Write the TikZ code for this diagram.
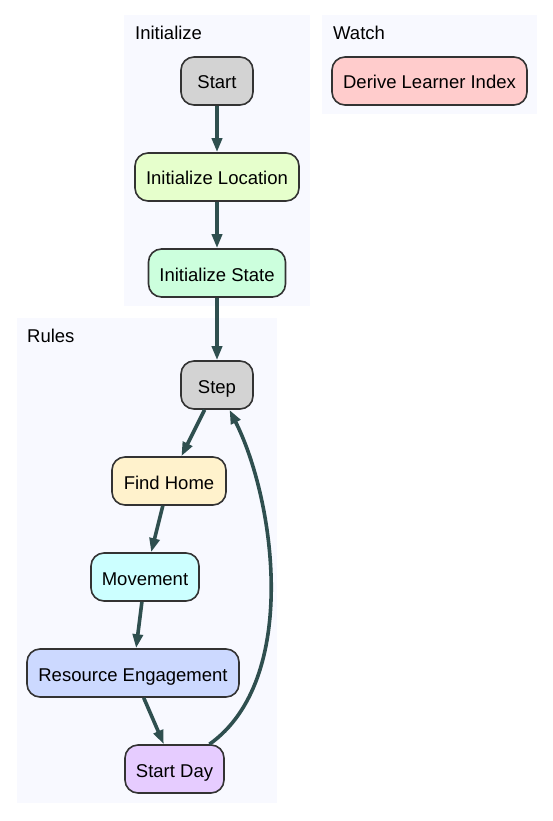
\documentclass[tikz,border=0pt]{standalone}
\usepackage{fontspec}
\setmainfont{Liberation Sans}
\usetikzlibrary{arrows.meta}
\definecolor{clusterbg}{HTML}{F8F9FF}
\definecolor{edgecol}{HTML}{2F4F4F}
\definecolor{bordercol}{HTML}{333333}
\definecolor{cgray}{HTML}{D3D3D3}
\definecolor{cinitloc}{HTML}{E6FFCC}
\definecolor{cinitstate}{HTML}{CCFFDD}
\definecolor{cderive}{HTML}{FFCCCC}
\definecolor{cfind}{HTML}{FFF2CC}
\definecolor{cmove}{HTML}{CCFFFF}
\definecolor{cres}{HTML}{CCD9FF}
\definecolor{cday}{HTML}{E6CCFF}
\tikzset{
  box/.style={draw=bordercol, line width=1.6pt, rounded corners=13pt,
    minimum height=48pt, inner xsep=8pt, text height=16pt, text depth=0pt,
    font=\fontsize{18.5}{22}\selectfont},
  clusterlabel/.style={anchor=west, inner sep=0pt, font=\fontsize{18.5}{22}\selectfont},
  arr/.style={draw=edgecol, line width=3.6pt, -{Triangle[length=14pt,width=10pt]}},
}
\begin{document}
\begin{tikzpicture}[x=1pt,y=-1pt]
\useasboundingbox (0,0) rectangle (553,821);
% clusters
\fill[clusterbg] (124,15) rectangle (310,306);
\fill[clusterbg] (322,15) rectangle (537,114);
\fill[clusterbg] (17,318) rectangle (277,803);
\node[clusterlabel] (linit) at (135,33) {Initialize};
\node[clusterlabel] (lwatch) at (333,33) {Watch};
\node[clusterlabel] (lrules) at (27,336) {Rules};
% nodes
\node[box, fill=cgray, minimum width=72pt] (start) at (217,81) {Start};
\node[box, fill=cinitloc, minimum width=164pt] (initloc) at (217,177) {Initialize Location};
\node[box, fill=cinitstate, minimum width=137pt] (initstate) at (217,273) {Initialize State};
\node[box, fill=cderive, minimum width=195pt] (derive) at (429.5,81) {Derive Learner Index};
\node[box, fill=cgray, minimum width=72pt] (step) at (217,385) {Step};
\node[box, fill=cfind, minimum width=114pt] (find) at (169,481) {Find Home};
\node[box, fill=cmove, minimum width=108pt] (move) at (145,577) {Movement};
\node[box, fill=cres, minimum width=212pt] (res) at (133,673) {Resource Engagement};
\node[box, fill=cday, minimum width=99pt] (day) at (174.5,769) {Start Day};
% edges
\draw[arr] (start) -- (initloc);
\draw[arr] (initloc) -- (initstate);
\draw[arr] (initstate) -- (step);
\draw[arr] (step) -- (find);
\draw[arr] (find) -- (move);
\draw[arr] (move) -- (res);
\draw[arr] (res) -- (day);
\draw[arr] (day) .. controls (300,680) and (275,500) .. (step);
\end{tikzpicture}
\end{document}
